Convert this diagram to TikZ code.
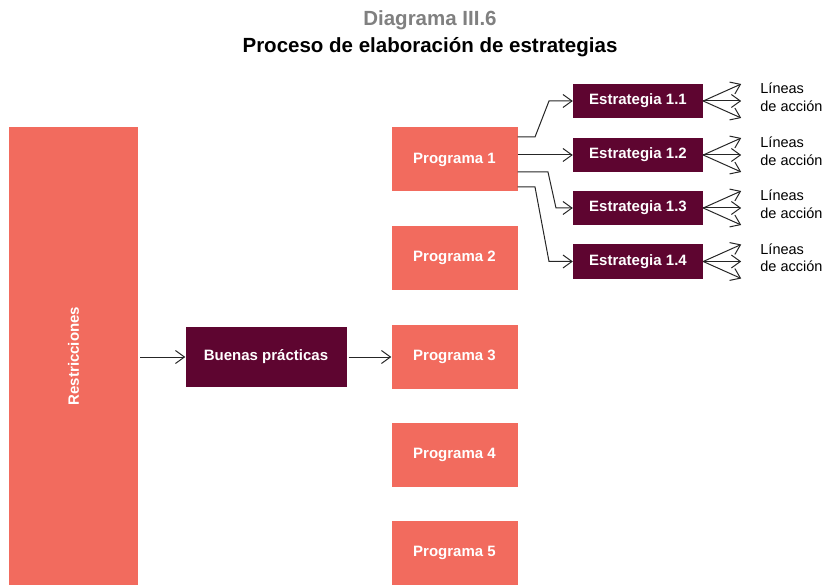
\documentclass[tikz,border=0pt]{standalone}
\usepackage{fontspec}
\setmainfont{Liberation Sans}
\usetikzlibrary{arrows.meta,calc}
\definecolor{salmon}{HTML}{F26B5E}
\definecolor{maroon}{HTML}{5E0530}
\definecolor{titlegray}{HTML}{808080}
\begin{document}
\begin{tikzpicture}[x=1pt,y=-1pt,
  salbox/.style={fill=salmon,draw=none,minimum width=126pt,minimum height=64pt,inner sep=0pt,text=white,font=\fontsize{15}{17}\selectfont\bfseries},
  darkbox/.style={fill=maroon,draw=none,inner sep=0pt,text=white,font=\fontsize{15}{17}\selectfont\bfseries},
  conn/.style={draw=black!85,line width=1pt,-{Straight Barb[length=9pt,width=13pt]}},
  lineas/.style={anchor=west,align=left,font=\fontsize{14.5}{17.5}\selectfont,inner sep=0pt}]
\useasboundingbox (0,0) rectangle (824,585);
\node[font=\fontsize{20.5}{22}\selectfont\bfseries,text=titlegray] (t1) at (430,20) {Diagrama III.6};
\node[font=\fontsize{20.5}{22}\selectfont\bfseries] (t2) at (430,47) {Proceso de elaboración de estrategias};
% Restricciones
\node[salbox,minimum width=129pt,minimum height=458pt] (r) at (73.5,356) {};
\node[text=white,font=\fontsize{15}{17}\selectfont\bfseries,rotate=90] (rt) at (r.center) {Restricciones};
% Buenas practicas
\node[darkbox,minimum width=161pt,minimum height=60pt] (b) at (266,357) {Buenas prácticas};
% Programas
\node[salbox] (p1) at (454.5,159.5) {Programa 1};
\node[salbox] (p2) at (454.5,258) {Programa 2};
\node[salbox] (p3) at (454.5,357) {Programa 3};
\node[salbox] (p4) at (454.5,455) {Programa 4};
\node[salbox] (p5) at (454.5,553) {Programa 5};
% Estrategias
\node[darkbox,minimum width=130pt,minimum height=34pt] (e1) at (638,101) {Estrategia 1.1};
\node[darkbox,minimum width=130pt,minimum height=34pt] (e2) at (638,155) {Estrategia 1.2};
\node[darkbox,minimum width=130pt,minimum height=34pt] (e3) at (638,208) {Estrategia 1.3};
\node[darkbox,minimum width=130pt,minimum height=34pt] (e4) at (638,261.5) {Estrategia 1.4};
% main arrows
\draw[conn] (r.east|-b.west) ++(2,0) coordinate (rs) -- (b.west);
\draw[conn] (b.east) ++(2,0) coordinate (bs) -- (p3.west);
% program 1 to strategies
\coordinate (a1) at (p1.east|-0,137);
\coordinate (a2) at (p1.east|-e2.west);
\coordinate (a3) at (p1.east|-0,172);
\coordinate (a4) at (p1.east|-0,187);
\draw[conn] (a1) -- (535,137) -- (549,101) -- (e1.west);
\draw[conn] (a2) -- (e2.west);
\draw[conn] (a3) -- (548,172) -- (556,208) -- (e3.west);
\draw[conn] (a4) -- (535,187) -- (549,261.5) -- (e4.west);
% fans and labels
\foreach \e in {e1,e2,e3,e4}{
  \draw[conn] (\e.east) -- ++(38,-17);
  \draw[conn] (\e.east) -- ++(38,0);
  \draw[conn] (\e.east) -- ++(38,17);
  \node[lineas] at ($(\e.east)+(57,-4)$) {Líneas\\de acción};
}
\end{tikzpicture}
\end{document}
